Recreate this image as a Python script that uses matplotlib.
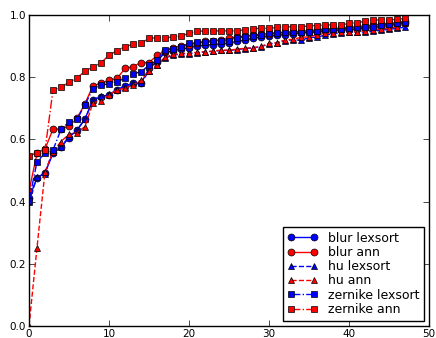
import numpy as np
import matplotlib
matplotlib.use('Agg')
import matplotlib.pyplot as plt

# wartosci, indeks 0..47
blur_lexsort = [0.41, 0.477, 0.492, 0.555, 0.574, 0.606, 0.63, 0.666, 0.727, 0.737,
                0.743, 0.759, 0.772, 0.78, 0.78, 0.828, 0.85, 0.88, 0.885, 0.89,
                0.895, 0.90, 0.903, 0.905, 0.908, 0.91, 0.915, 0.92, 0.925, 0.93,
                0.932, 0.935, 0.937, 0.94, 0.942, 0.944, 0.946, 0.948, 0.95, 0.952,
                0.953, 0.955, 0.957, 0.96, 0.963, 0.966, 0.97, 0.975]
blur_ann = [0.434, 0.555, 0.569, 0.633, 0.633, 0.643, 0.668, 0.715, 0.773, 0.78,
            0.79, 0.796, 0.828, 0.834, 0.847, 0.847, 0.87, 0.885, 0.895, 0.90,
            0.905, 0.91, 0.915, 0.918, 0.92, 0.925, 0.93, 0.932, 0.935, 0.938,
            0.94, 0.942, 0.945, 0.945, 0.947, 0.95, 0.952, 0.955, 0.955, 0.958,
            0.96, 0.962, 0.965, 0.967, 0.97, 0.973, 0.975, 0.98]
hu_lexsort = [0.40, 0.478, 0.49, 0.565, 0.575, 0.61, 0.63, 0.665, 0.727, 0.74,
              0.745, 0.76, 0.77, 0.78, 0.78, 0.82, 0.84, 0.862, 0.87, 0.875,
              0.876, 0.879, 0.881, 0.883, 0.886, 0.886, 0.889, 0.892, 0.894, 0.898,
              0.907, 0.91, 0.918, 0.92, 0.919, 0.927, 0.929, 0.935, 0.94, 0.942,
              0.945, 0.945, 0.945, 0.948, 0.951, 0.954, 0.957, 0.961]
hu_ann = [0.0, 0.252, 0.496, 0.56, 0.593, 0.617, 0.622, 0.641, 0.718, 0.724,
          0.743, 0.759, 0.765, 0.775, 0.79, 0.82, 0.84, 0.864, 0.873, 0.877,
          0.877, 0.88, 0.882, 0.884, 0.887, 0.887, 0.89, 0.893, 0.895, 0.899,
          0.909, 0.911, 0.92, 0.922, 0.928, 0.93, 0.936, 0.941, 0.943, 0.946,
          0.946, 0.946, 0.949, 0.952, 0.955, 0.957, 0.962, 0.973]
zernike_lexsort = [0.402, 0.528, 0.556, 0.566, 0.632, 0.656, 0.664, 0.712, 0.763, 0.775,
                   0.778, 0.786, 0.796, 0.81, 0.818, 0.838, 0.855, 0.889, 0.891, 0.896,
                   0.909, 0.912, 0.912, 0.915, 0.917, 0.917, 0.927, 0.93, 0.933, 0.936,
                   0.941, 0.943, 0.944, 0.946, 0.946, 0.946, 0.949, 0.954, 0.954, 0.955,
                   0.957, 0.96, 0.96, 0.962, 0.968, 0.971, 0.973, 0.978]
zernike_ann = [0.548, 0.555, 0.565, 0.759, 0.767, 0.784, 0.797, 0.82, 0.832, 0.846,
               0.871, 0.885, 0.898, 0.906, 0.909, 0.925, 0.927, 0.927, 0.929, 0.932,
               0.941, 0.947, 0.949, 0.949, 0.949, 0.949, 0.949, 0.952, 0.956, 0.957,
               0.957, 0.96, 0.962, 0.962, 0.962, 0.965, 0.966, 0.968, 0.968, 0.968,
               0.973, 0.975, 0.98, 0.984, 0.984, 0.984, 0.986, 0.989]

x = np.arange(len(zernike_ann))

fig = plt.figure(figsize=(4.36, 3.38), dpi=100)
ax = fig.add_axes([29/436, 12/338, 400/436, 311/338])

styl = dict(markersize=5, markeredgecolor='k', markeredgewidth=0.5, linewidth=1)
ax.plot(x, blur_lexsort, 'bo-', label='blur lexsort', **styl)
ax.plot(x, blur_ann, 'ro-', label='blur ann', **styl)
ax.plot(x, hu_lexsort, 'b^--', label='hu lexsort', **styl)
ax.plot(x, hu_ann, 'r^--', label='hu ann', **styl)
ax.plot(x, zernike_lexsort, 'bs-.', label='zernike lexsort', **styl)
ax.plot(x, zernike_ann, 'rs-.', label='zernike ann', **styl)

ax.set_xlim(0, 50)
ax.set_ylim(0, 1)
ax.set_xticks([0, 10, 20, 30, 40, 50])
ax.set_yticks([0.0, 0.2, 0.4, 0.6, 0.8, 1.0])
ax.tick_params(direction='in', top=True, right=True, labelsize=7.5, length=4,
               width=0.5, pad=2)
for s in ax.spines.values():
    s.set_linewidth(1)

ax.legend(loc='lower right', numpoints=2, fontsize=9, handlelength=2.4,
          labelspacing=0.1, borderpad=0.4, borderaxespad=0.4,
          fancybox=False, edgecolor='k', framealpha=1)

plt.savefig('out.png', dpi=100)
plt.close()
